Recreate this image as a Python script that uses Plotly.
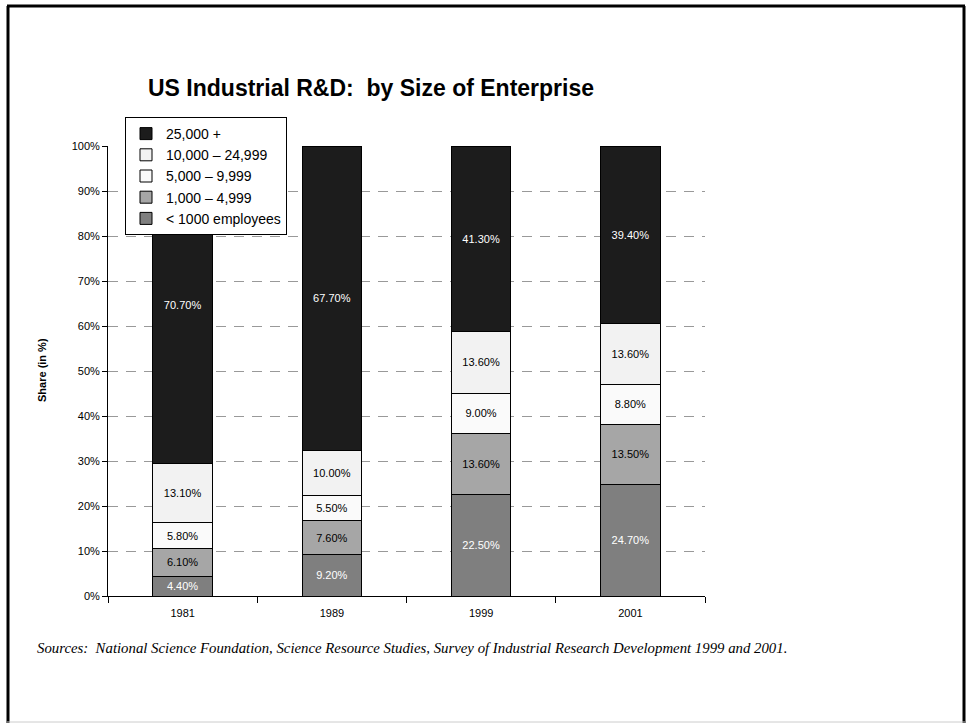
import plotly.graph_objects as go

years = ["1981", "1989", "1999", "2001"]
series_names = ["< 1000 employees", "1,000 \u2013 4,999", "5,000 \u2013 9,999", "10,000 \u2013 24,999", "25,000 +"]
lt1000 = [4.4, 9.2, 22.5, 24.7]
s1000 = [6.1, 7.6, 13.6, 13.5]
s5000 = [5.8, 5.5, 9.0, 8.8]
s10000 = [13.1, 10.0, 13.6, 13.6]
s25000 = [70.7, 67.7, 41.3, 39.4]
series_values = [lt1000, s1000, s5000, s10000, s25000]
colors = ["#7f7f7f", "#a6a6a6", "#fafafa", "#f2f2f2", "#1c1c1c"]
text_colors = ["white", "black", "black", "black", "white"]

W, H = 969, 723
L, R, T, B = 108, 705, 146, 596
pw, ph = R - L, B - T

def px(x):
    return (x - L) / pw

def py(y):
    return (B - y) / ph

fig = go.Figure()
for name, vals, c, tc in zip(series_names, series_values, colors, text_colors):
    fig.add_trace(go.Bar(
        x=years, y=vals, name=name, width=0.4,
        marker=dict(color=c, line=dict(color="black", width=1)),
        text=[f"{v:.2f}%" for v in vals], textposition="inside",
        insidetextanchor="middle", textangle=0,
        textfont=dict(color=tc, size=11, family="Liberation Sans, Arial"),
        hoverinfo="skip",
    ))

fig.update_layout(
    width=W, height=H, barmode="stack",
    margin=dict(l=L, r=W - R, t=T, b=H - B),
    paper_bgcolor="white", plot_bgcolor="white",
    font=dict(family="Liberation Sans, Arial", size=11, color="black"),
    title=dict(text="<b>US Industrial R&D:\u00a0 by Size of Enterprise</b>",
               x=148 / W, xanchor="left", xref="container",
               y=1 - 88 / H, yanchor="middle", yref="container",
               font=dict(size=23, family="Liberation Sans, Arial", color="black")),
    showlegend=True,
    legend=dict(x=px(125), y=py(117), xanchor="left", yanchor="top",
                traceorder="reversed", bgcolor="white",
                bordercolor="black", borderwidth=1,
                font=dict(size=14, family="Liberation Sans, Arial"),
                itemwidth=30, tracegroupgap=0),
    xaxis=dict(showline=True, linecolor="black", linewidth=1,
               ticks="outside", tickson="boundaries", ticklen=6, tickcolor="black",
               ticklabelstandoff=7,
               showgrid=False, tickfont=dict(size=11)),
    yaxis=dict(range=[0, 100], dtick=10, ticksuffix="%",
               showline=True, linecolor="black", linewidth=1,
               ticks="outside", ticklen=5, tickcolor="black",
               showgrid=True, gridcolor="#999999", griddash="10px,8px", gridwidth=1,
               zeroline=False, tickfont=dict(size=11)),
    annotations=[
        dict(text="<b>Share (in %)</b>", x=px(42), y=py(370), xref="paper", yref="paper",
             xanchor="center", yanchor="middle",
             textangle=-90, showarrow=False, font=dict(size=11)),
        dict(text="<i>Sources:\u00a0 National Science Foundation, Science Resource Studies, Survey of Industrial Research Development 1999 and 2001.</i>",
             x=px(35), y=py(648), xref="paper", yref="paper", xanchor="left", yanchor="middle",
             showarrow=False, font=dict(size=14.8, family="Liberation Serif, Times New Roman")),
    ],
    shapes=[
        dict(type="line", xref="paper", yref="paper", x0=px(8), x1=px(8), y0=py(6), y1=py(723), line=dict(color="black", width=3)),
        dict(type="line", xref="paper", yref="paper", x0=px(964), x1=px(964), y0=py(6), y1=py(723), line=dict(color="black", width=3)),
        dict(type="line", xref="paper", yref="paper", x0=px(7), x1=px(965), y0=py(6), y1=py(6), line=dict(color="black", width=3)),
        dict(type="line", xref="paper", yref="paper", x0=px(7), x1=px(965), y0=py(722), y1=py(722), line=dict(color="#cccccc", width=1)),
    ],
)

fig.write_html("out.html")
